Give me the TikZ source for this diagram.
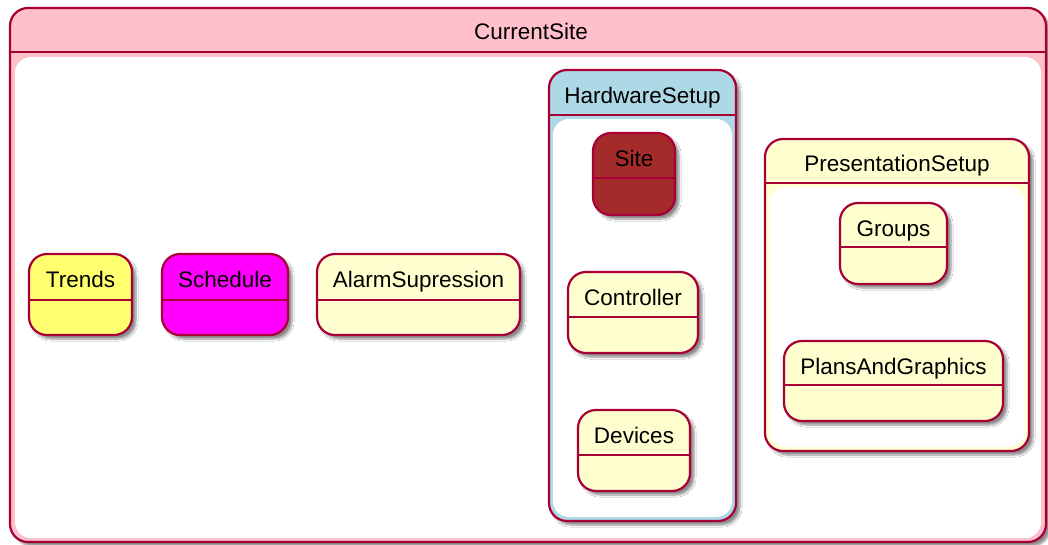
\documentclass[tikz,border=0pt]{standalone}
\usepackage{fontspec}
\setmainfont{Liberation Sans}
\usetikzlibrary{shadows.blur}

\definecolor{umlborder}{HTML}{A80036}
\definecolor{umlfill}{HTML}{FEFECE}
\definecolor{sitepink}{HTML}{FFC0CB}
\definecolor{hwblue}{HTML}{ADD8E6}
\definecolor{sitebrown}{HTML}{A52A2A}
\definecolor{trendyellow}{HTML}{FFFF70}
\definecolor{schedmagenta}{HTML}{FF00FF}

\tikzset{
  statebox/.style={draw=umlborder, line width=2.2pt, rounded corners=18pt,
    blur shadow={shadow xshift=4pt, shadow yshift=-4pt, shadow blur steps=6, shadow opacity=45}},
  divider/.style={draw=umlborder, line width=2.2pt},
  innerarea/.style={fill=white, rounded corners=16pt},
  statetext/.style={font=\fontsize{22.5}{27}\selectfont, inner sep=0pt, anchor=base}
}

\begin{document}
\begin{tikzpicture}[x=1pt, y=-1pt]
				\useasboundingbox (0,0) rectangle (1048,544);
				
				% CurrentSite composite
				\draw[statebox, fill=sitepink] (10,8) rectangle (1046,542);
				\fill[innerarea] (15,57) rectangle (1041,538);
				\draw[divider] (10,52) -- (1046,52);
				\node[statetext] (currentsite) at (531,39.5) {CurrentSite};
				
				% Trends state
				\draw[statebox, fill=trendyellow] (29,254) rectangle (132,335);
				\draw[divider] (29,300) -- (132,300);
				\node[statetext] (trends) at (80.5,287) {Trends};
				
				% Schedule state
				\draw[statebox, fill=schedmagenta] (162,254) rectangle (288,335);
				\draw[divider] (162,300) -- (288,300);
				\node[statetext] (schedule) at (225,287) {Schedule};
				
				% AlarmSupression state
				\draw[statebox, fill=umlfill] (317,254) rectangle (520,335);
				\draw[divider] (317,300) -- (520,300);
				\node[statetext] (alarmsupression) at (418.5,287) {AlarmSupression};
				
				% HardwareSetup composite
				\draw[statebox, fill=hwblue] (549,70) rectangle (736,521);
				\fill[innerarea] (553,119) rectangle (732,517);
				\draw[divider] (549,115) -- (736,115);
				\node[statetext] (hardwaresetup) at (642.5,103) {HardwareSetup};
				
				% Site state
				\draw[statebox, fill=sitebrown] (593,133) rectangle (675,215);
				\draw[divider] (593,178) -- (675,178);
				\node[statetext] (site) at (634,166) {Site};
				
				% Controller state
				\draw[statebox, fill=umlfill] (568,272) rectangle (698,353);
				\draw[divider] (568,317) -- (698,317);
				\node[statetext] (controller) at (633,305) {Controller};
				
				% Devices state
				\draw[statebox, fill=umlfill] (578,410) rectangle (690,491);
				\draw[divider] (578,455) -- (690,455);
				\node[statetext] (devices) at (634,443) {Devices};
				
				% PresentationSetup composite
				\draw[statebox, fill=umlfill] (765,139) rectangle (1029,451);
				\fill[innerarea] (769,187) rectangle (1025,447);
				\draw[divider] (765,183) -- (1029,183);
				\node[statetext] (presentationsetup) at (897,171) {PresentationSetup};
				
				% Groups state
				\draw[statebox, fill=umlfill] (840,203) rectangle (947,284);
				\draw[divider] (840,247) -- (947,247);
				\node[statetext] (groups) at (893.5,236) {Groups};
				
				% PlansAndGraphics state
				\draw[statebox, fill=umlfill] (784,341) rectangle (1003,421);
				\draw[divider] (784,385) -- (1003,385);
				\node[statetext] (plansandgraphics) at (893.5,374) {PlansAndGraphics};
			\end{tikzpicture}
\end{document}
